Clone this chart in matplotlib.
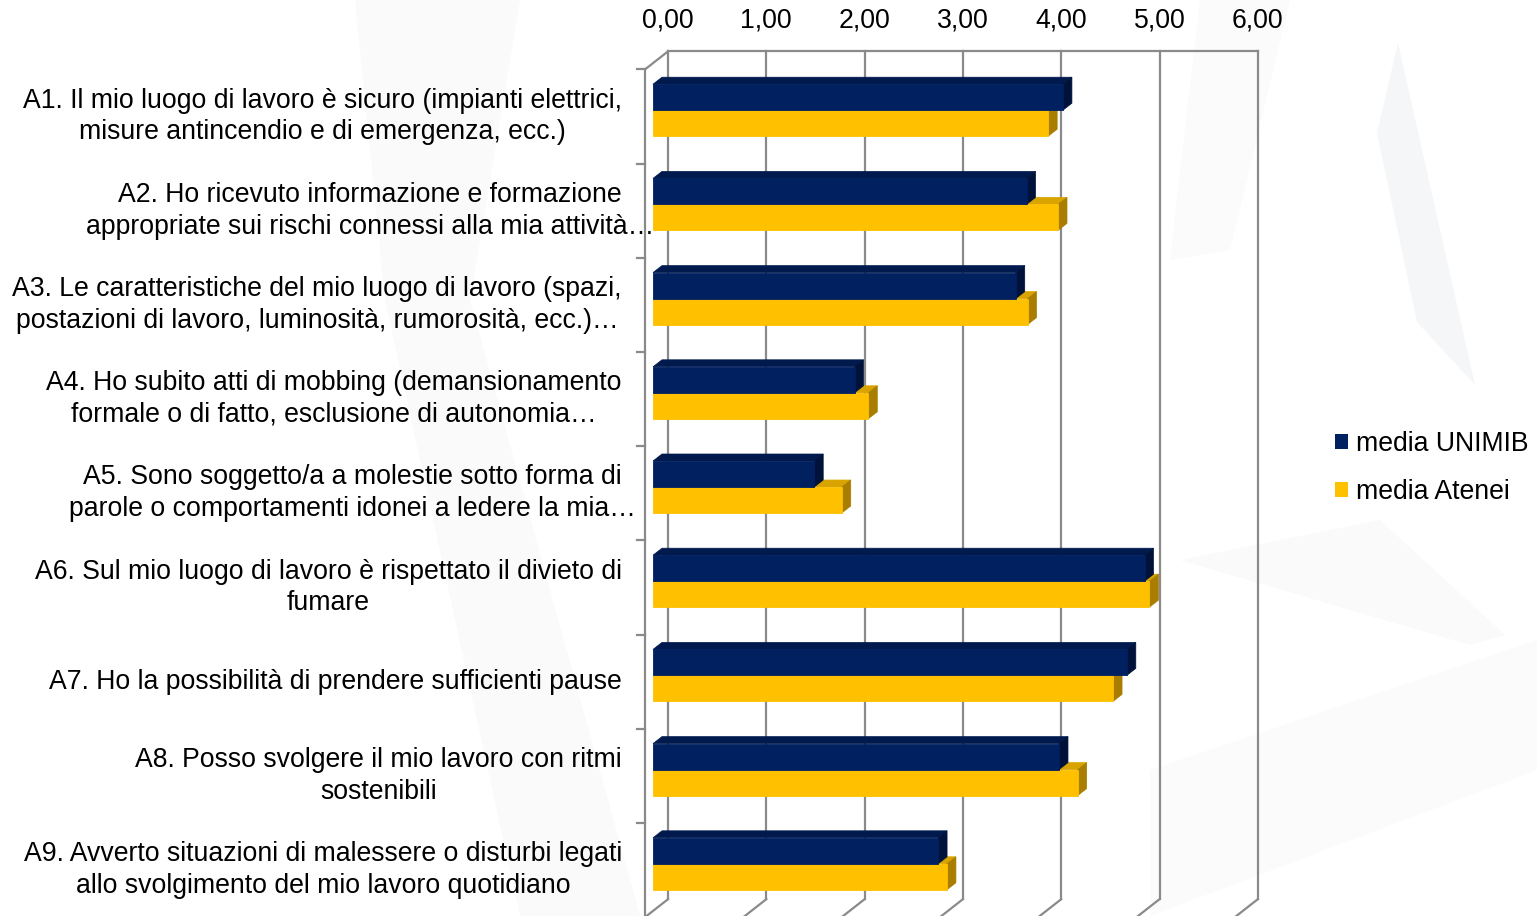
import matplotlib
matplotlib.use("Agg")
import matplotlib.pyplot as plt
from matplotlib.transforms import ScaledTranslation, blended_transform_factory, IdentityTransform
from matplotlib.patches import Polygon, Rectangle
import numpy as np

plt.rcParams['font.family'] = ['Liberation Sans', 'DejaVu Sans']

categories = [
    "A1. Il mio luogo di lavoro è sicuro (impianti elettrici,\nmisure antincendio e di emergenza, ecc.)",
    "A2. Ho ricevuto informazione e formazione\nappropriate sui rischi connessi alla mia attività…",
    "A3. Le caratteristiche del mio luogo di lavoro (spazi,\npostazioni di lavoro, luminosità, rumorosità, ecc.)…",
    "A4. Ho subito atti di mobbing (demansionamento\nformale o di fatto, esclusione di autonomia…",
    "A5. Sono soggetto/a a molestie sotto forma di\nparole o comportamenti idonei a ledere la mia…",
    "A6. Sul mio luogo di lavoro è rispettato il divieto di\nfumare",
    "A7. Ho la possibilità di prendere sufficienti pause",
    "A8. Posso svolgere il mio lavoro con ritmi\nsostenibili",
    "A9. Avverto situazioni di malessere o disturbi legati\nallo svolgimento del mio lavoro quotidiano",
]
media_unimib = [4.17, 3.80, 3.69, 2.05, 1.64, 5.00, 4.82, 4.13, 2.90]
media_atenei = [4.02, 4.12, 3.81, 2.19, 1.92, 5.05, 4.68, 4.32, 2.99]
series_names = ["media UNIMIB", "media Atenei"]
ticks = [0, 1, 2, 3, 4, 5, 6]
tick_labels = ["0,00", "1,00", "2,00", "3,00", "4,00", "5,00", "6,00"]

W, H, DPI = 1537, 916, 100
fig = plt.figure(figsize=(W / DPI, H / DPI), dpi=DPI)
fig.patch.set_facecolor("white")

# faint background watermark shapes (figure pixel coordinates)
bg = fig.add_axes([0, 0, 1, 1], zorder=-10)
bg.set_xlim(0, W)
bg.set_ylim(H, 0)
bg.axis("off")
wm_col = "#fafafb"
bg.add_patch(Polygon([(355, 0), (520, 0), (470, 300), (640, 916), (520, 916), (385, 300)],
                     closed=True, facecolor=wm_col, edgecolor="none"))
bg.add_patch(Polygon([(1398, 43), (1475, 385), (1417, 322), (1377, 133)],
                     closed=True, facecolor="#f5f6f8", edgecolor="none"))
bg.add_patch(Polygon([(1180, 560), (1380, 520), (1505, 635), (1470, 645)],
                     closed=True, facecolor=wm_col, edgecolor="none"))
bg.add_patch(Polygon([(1150, 770), (1537, 640), (1537, 770), (1150, 916)],
                     closed=True, facecolor="#fbfbfc", edgecolor="none"))
bg.add_patch(Polygon([(1200, 0), (1290, 0), (1230, 250), (1170, 260)],
                     closed=True, facecolor="#fbfbfb", edgecolor="none"))

# axes = plane of the bars' front faces
top_px, bot_px = 63.1, 910.9
left_px, right_px = 653, 1242.8
ax = fig.add_axes([left_px / W, 1 - bot_px / H, (right_px - left_px) / W, (bot_px - top_px) / H])
ax.set_xlim(0, 6)
ax.set_ylim(8.5, -0.5)
ax.axis("off")


def off(dx, dy):
    # dx to the right, dy downward, in pixels
    return ScaledTranslation(dx / DPI, -dy / DPI, fig.dpi_scale_trans)


T_front = ax.transData + off(-8, 6.3)
T_back = ax.transData + off(15, -11.7)
depth = np.array([9.0, 7.0])  # bar depth in display px (right, up)

grid_col = "#8a8a8a"
glw = 1.6

# back-plane gridlines and top edge
for v in ticks:
    ax.plot([v, v], [-0.5, 8.5], transform=T_back, color=grid_col, lw=glw, clip_on=False, zorder=1)
    p1 = T_back.transform((v, 8.5))
    p2 = T_front.transform((v, 8.5))
    ax.plot([p1[0], p2[0]], [p1[1], p2[1]], transform=IdentityTransform(), color=grid_col, lw=glw,
            clip_on=False, zorder=1)
ax.plot([ticks[0], ticks[-1]], [-0.5, -0.5], transform=T_back, color=grid_col, lw=glw, clip_on=False, zorder=1)

# left wall: front edge, top diagonal, category tick marks
ax.plot([0, 0], [-0.5, 8.5], transform=T_front, color=grid_col, lw=glw, clip_on=False, zorder=1)
p1 = T_back.transform((0, -0.5))
p2 = T_front.transform((0, -0.5))
ax.plot([p1[0], p2[0]], [p1[1], p2[1]], transform=IdentityTransform(), color=grid_col, lw=glw,
        clip_on=False, zorder=1)
for k in range(len(categories) + 1):
    yb = k - 0.5
    q = T_front.transform((0, yb))
    ax.plot([q[0] - 8, q[0]], [q[1], q[1]], transform=IdentityTransform(), color=grid_col, lw=glw,
            clip_on=False, zorder=1)

# bars
n = len(categories)
y = np.arange(n)
h = 0.276
colors = {
    "navy": ("#002060", "#001a4e", "#00123a"),
    "yellow": ("#FFC000", "#d9a400", "#a87d00"),
}


def draw_3d(values, ypos, cols, z):
    front, topc, side = cols
    bars = ax.barh(ypos, values, height=h, color=front, edgecolor=front, lw=0.6, zorder=z + 0.5)
    for v, yc in zip(values, ypos):
        y0, y1 = yc - h / 2, yc + h / 2
        A = ax.transData.transform((0, y0))
        B = ax.transData.transform((v, y0))
        C = ax.transData.transform((v, y1))
        topface = Polygon([A, B, B + depth, A + depth], closed=True, transform=IdentityTransform(),
                          facecolor=topc, edgecolor=topc, lw=0.5, zorder=z, clip_on=False)
        sideface = Polygon([B, C, C + depth, B + depth], closed=True, transform=IdentityTransform(),
                           facecolor=side, edgecolor=side, lw=0.5, zorder=z, clip_on=False)
        ax.add_patch(topface)
        ax.add_patch(sideface)
    return bars


b_at = draw_3d(media_atenei, y + h / 2, colors["yellow"], 2)
b_un = draw_3d(media_unimib, y - h / 2, colors["navy"], 4)

fs = 19.2
# tick labels on the back plane, above the chart
for v, lab in zip(ticks, tick_labels):
    ax.text(v, -0.5, lab, transform=T_back + off(0, -31), ha="center", va="center", fontsize=fs,
            color="black")

# category labels
renderer = fig.canvas.get_renderer()
lab_tr = blended_transform_factory(fig.dpi_scale_trans, T_front)
for i, lab in enumerate(categories):
    first = lab.split("\n")[0]
    tmp = fig.text(0, 0, first, fontsize=fs)
    w = tmp.get_window_extent(renderer).width
    tmp.remove()
    xc = (622 - w / 2) / DPI
    ax.text(xc, i, lab, transform=lab_tr, ha="center", va="center", multialignment="center",
            fontsize=fs, linespacing=1.28, color="black", clip_on=False)

# legend
handles = [Rectangle((0, 0), 1, 1, facecolor=colors["navy"][0]),
           Rectangle((0, 0), 1, 1, facecolor=colors["yellow"][0])]
fig.legend(handles, series_names, loc="center left", bbox_to_anchor=(1324 / W, 1 - 468 / H),
           frameon=False, fontsize=fs, handlelength=0.5, handleheight=0.5, handletextpad=0.3,
           labelspacing=0.82, borderaxespad=0)

fig.savefig("out.png", dpi=DPI)
